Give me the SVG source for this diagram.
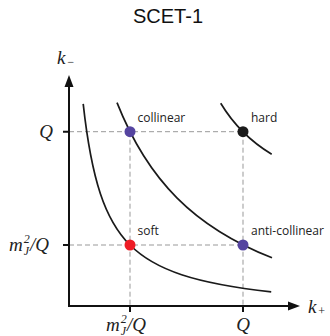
<svg xmlns="http://www.w3.org/2000/svg" width="330" height="336" viewBox="0 0 330 336">
<defs>
<style>
.title{font-family:"Liberation Sans",Arial,sans-serif;font-size:20px;fill:#111;}
.lbl{font-family:"Open Sans","Liberation Sans",sans-serif;font-size:12px;fill:#222;}
.math{font-family:"Liberation Serif","Times New Roman",serif;font-style:italic;font-size:19px;fill:#222;}
.sub{font-family:"Liberation Serif","Times New Roman",serif;font-size:12px;fill:#222;}
.axis{stroke:#111;stroke-width:2;fill:none;}
.tick{stroke:#111;stroke-width:2;}
.dash{stroke:#999;stroke-width:1;stroke-dasharray:5 3;fill:none;}
.curve{stroke:#1a1a1a;stroke-width:1.7;fill:none;}
</style>
</defs>
<rect width="330" height="336" fill="#fff"/>
<text class="title" x="168" y="23" text-anchor="middle">SCET-1</text>

<g id="connectors">
<path class="dash" d="M69 131.7H243M69 245H243M130 131.7V306M243 131.7V306"/>
<path class="curve" d="M83.2 103.8C87.5 142.7 92.9 171 100.3 193.4C107.7 215.8 117.1 232.1 130 245C142.9 257.9 159.2 267.3 181.6 274.7C204 282.1 232.3 287.5 271.2 291.8"/>
<path class="curve" d="M117 102.6C132.7 142.2 152 172.8 176.9 197.8C201.8 222.8 232.4 242.1 272 257.8"/>
<path class="curve" d="M220.7 103.3C233.75 124.9 250.1 141.25 271.7 154.3"/>
</g>

<g id="axes">
<path class="axis" d="M69 85V306H289"/>
<polygon points="69,75 64.5,87 73.5,87" fill="#111"/>
<polygon points="300,306 288,301.5 288,310.5" fill="#111"/>
<path class="tick" d="M63 131.7H69M63 245H69M130 306V312M243 306V312"/>
<text class="math" x="57" y="64">k<tspan class="sub" dx="1" dy="2">−</tspan></text>
<text class="math" x="308" y="312.7">k<tspan class="sub" dx="1" dy="2">+</tspan></text>
<text class="math" x="53" y="138" text-anchor="end">Q</text>
<text class="math" x="9" y="251">m<tspan class="sub" dx="1" dy="-8">2</tspan><tspan class="sub" dx="-6" dy="12">J</tspan><tspan dx="1" dy="-4">/Q</tspan></text>
<text class="math" x="106" y="331">m<tspan class="sub" dx="1" dy="-8">2</tspan><tspan class="sub" dx="-6" dy="12">J</tspan><tspan dx="1" dy="-4">/Q</tspan></text>
<text class="math" x="243" y="331" text-anchor="middle">Q</text>
</g>

<g id="collinear">
<circle cx="130" cy="131.7" r="5.5" fill="#5544a0"/>
<text class="lbl" x="137.5" y="122">collinear</text>
</g>
<g id="hard">
<circle cx="243" cy="131.7" r="5.5" fill="#1a1a1a"/>
<text class="lbl" x="251" y="122">hard</text>
</g>
<g id="soft">
<circle cx="130" cy="245" r="5.5" fill="#ee1c25"/>
<text class="lbl" x="137.5" y="235">soft</text>
</g>
<g id="anti-collinear">
<circle cx="243" cy="245" r="5.5" fill="#5544a0"/>
<text class="lbl" x="251" y="235">anti-collinear</text>
</g>
</svg>
